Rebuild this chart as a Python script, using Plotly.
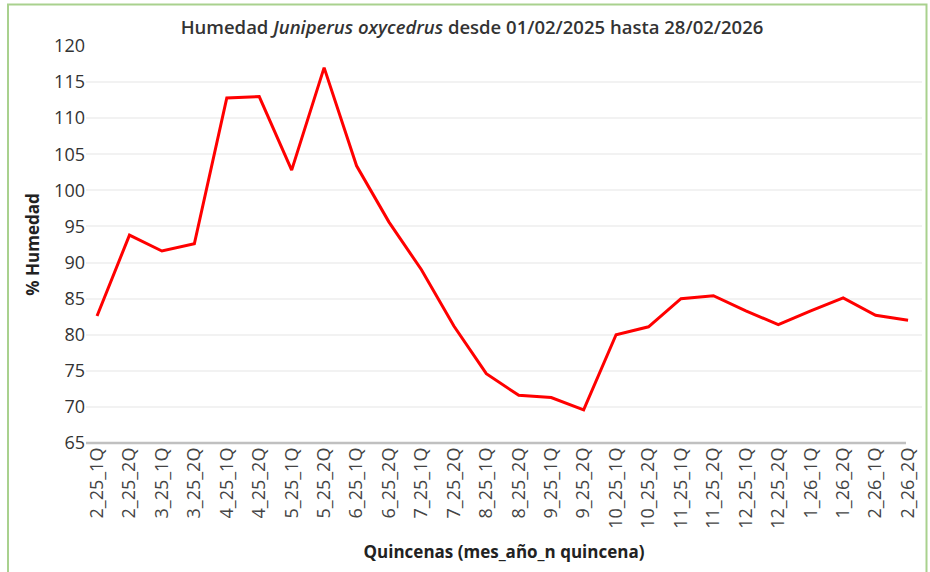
import plotly.graph_objects as go

categories = ["2_25_1Q", "2_25_2Q", "3_25_1Q", "3_25_2Q", "4_25_1Q", "4_25_2Q",
              "5_25_1Q", "5_25_2Q", "6_25_1Q", "6_25_2Q", "7_25_1Q", "7_25_2Q",
              "8_25_1Q", "8_25_2Q", "9_25_1Q", "9_25_2Q", "10_25_1Q", "10_25_2Q",
              "11_25_1Q", "11_25_2Q", "12_25_1Q", "12_25_2Q", "1_26_1Q", "1_26_2Q",
              "2_26_1Q", "2_26_2Q"]
humedad = [82.6, 93.8, 91.6, 92.6, 112.8, 113.0, 102.8, 117.0, 103.4, 95.6,
           89.0, 81.2, 74.6, 71.6, 71.3, 69.6, 80.0, 81.1, 85.0, 85.4,
           83.3, 81.4, 83.3, 85.1, 82.7, 82.0]
y_ticks = [65, 70, 75, 80, 85, 90, 95, 100, 105, 110, 115, 120]

W, H = 930, 572
L, R, T, B = 86, 8, 46, 129
pw, ph = W - L - R, H - T - B

def px_x(p):
    return (p - L) / pw

def px_y(p):
    return (H - B - p) / ph

fig = go.Figure()
fig.add_trace(go.Scatter(
    x=list(range(len(categories))), y=humedad, mode="lines",
    line=dict(color="#ff0000", width=3), hoverinfo="skip", showlegend=False,
))

font_main = "'Open Sans', Lato, sans-serif"

fig.update_layout(
    width=W, height=H,
    margin=dict(l=L, r=R, t=T, b=B, autoexpand=False),
    paper_bgcolor="white", plot_bgcolor="white",
    font=dict(family=font_main, color="#333333"),
    title=dict(
        text="Humedad <i>Juniperus oxycedrus</i> desde 01/02/2025 hasta 28/02/2026",
        x=px_x(472), xref="paper", xanchor="center",
        y=1 - 28 / H, yref="container", yanchor="middle",
        font=dict(family="'Open Sans', sans-serif", size=18.5, color="#333333", weight=600),
    ),
    xaxis=dict(
        tickmode="array", tickvals=list(range(len(categories))), ticktext=categories,
        range=[-0.34, 25.43], tickangle=-90, automargin=False,
        tickfont=dict(size=18, color="#444444"),
        showgrid=False, showline=False,
        ticks="", zeroline=False,
        title=dict(text="<b>Quincenas (mes_año_n quincena)</b>", standoff=18,
                   font=dict(size=17, color="#222222")),
    ),
    yaxis=dict(
        range=[65, 120], tickmode="array", tickvals=y_ticks, automargin=False,
        tickfont=dict(size=18, color="#333333"),
        showgrid=True, gridcolor="#f2f2f2", gridwidth=2,
        zeroline=False, showline=False, ticks="",
        title=dict(text="<b>% Humedad</b>", standoff=10,
                   font=dict(size=17, color="#222222")),
    ),
    shapes=[
        dict(type="line", xref="paper", yref="paper",
             x0=0, x1=px_x(906), y0=0, y1=0,
             line=dict(color="#c0c0c0", width=2.5), layer="above"),
        dict(type="rect", xref="paper", yref="paper",
             x0=px_x(8), x1=px_x(926.5), y0=px_y(580), y1=px_y(4.5),
             line=dict(color="#a9d18e", width=2), fillcolor="rgba(0,0,0,0)", layer="above"),
    ],
)

fig.write_html("out.html", config={"displayModeBar": False},
               post_script="document.body.style.margin='0px';document.body.style.overflow='hidden';")
